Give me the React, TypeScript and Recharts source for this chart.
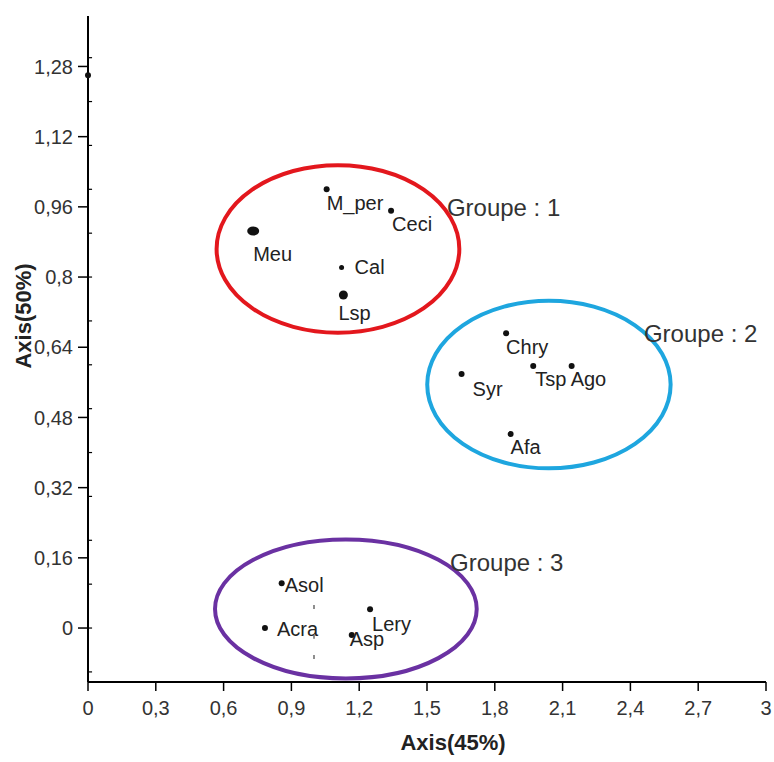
import React from 'react';
import { ScatterChart, Scatter, XAxis, YAxis, ReferenceArea, ReferenceLine } from 'recharts';

const FONT = '"Liberation Sans", Arial, sans-serif';

// species scores on the two axes
const speciesNames = ['', 'M_per', 'Ceci', 'Meu', 'Cal', 'Lsp', 'Chry', 'Syr', 'Tsp', 'Ago', 'Afa', 'Asol', 'Acra', 'Lery', 'Asp'];
const axis45 = [0, 1.056, 1.341, 0.731, 1.122, 1.13, 1.85, 1.653, 1.97, 2.14, 1.87, 0.857, 0.783, 1.248, 1.167];
const axis50 = [1.26, 1.0, 0.951, 0.905, 0.822, 0.759, 0.672, 0.579, 0.597, 0.597, 0.442, 0.102, 0.0, 0.043, -0.016];

// groups: label anchor and the extent of the circled area
const groupNames = ['Groupe : 1', 'Groupe : 2', 'Groupe : 3'];
const groupLabelX = [1.588, 2.46, 1.602];
const groupLabelY = [0.959, 0.672, 0.15];
const groupMinX = [0.569, 1.501, 0.562];
const groupMaxX = [1.643, 2.578, 1.72];
const groupMinY = [0.673, 0.364, -0.115];
const groupMaxY = [1.055, 0.746, 0.202];

// faint marks left over near x = 1
const markX = [1, 1, 1];
const markY = [0.048, -0.02, -0.066];

const xTicks = [0, 0.3, 0.6, 0.9, 1.2, 1.5, 1.8, 2.1, 2.4, 2.7, 3];
const yTicks = [0, 0.16, 0.32, 0.48, 0.64, 0.8, 0.96, 1.12, 1.28];
const yMinorTicks = [-0.1, 0, 0.1, 0.2, 0.3, 0.4, 0.5, 0.6, 0.7, 0.8, 0.9, 1, 1.1, 1.2, 1.3];

const groupColors = ['#e3171d', '#1ea6df', '#6a31a2'];

// label placement relative to each dot (px)
const labelOffset: Record<string, [number, number]> = {
  M_per: [0, 14], Ceci: [1, 13], Meu: [0, 23], Cal: [13, 0], Lsp: [-5, 18],
  Chry: [0, 14], Syr: [11, 15], Tsp: [2, 13], Ago: [-1, 13], Afa: [0, 13],
  Asol: [3, 2], Acra: [12, 1], Lery: [2, 15], Asp: [-2, 4],
};
const dotSize: Record<string, [number, number]> = { Meu: [6, 4.5], Lsp: [4.5, 4.5], Cal: [2.5, 2.5] };

const points = speciesNames.map((name, i) => ({ name, x: axis45[i], y: axis50[i] }));
const groupLabels = groupNames.map((name, i) => ({ name, x: groupLabelX[i], y: groupLabelY[i] }));
const marks = markX.map((x, i) => ({ x, y: markY[i] }));

const fmt = (v: number) => String(v).replace('.', ',');

const SpeciesDot = (props: any) => {
  const { cx, cy, payload } = props;
  const [rx, ry] = dotSize[payload.name] || [3, 3];
  const off = labelOffset[payload.name];
  return (
    <g>
      <ellipse cx={cx} cy={cy} rx={rx} ry={ry} fill="#111" />
      {off && (
        <text x={cx + off[0]} y={cy + off[1]} dominantBaseline="central" fontSize={20} fontFamily={FONT} fill="#222">
          {payload.name}
        </text>
      )}
    </g>
  );
};

const GroupText = (props: any) => (
  <text x={props.cx} y={props.cy} dominantBaseline="central" fontSize={24} fontFamily={FONT} fill="#333">
    {props.payload.name}
  </text>
);

const Mark = (props: any) => <line x1={props.cx} x2={props.cx} y1={props.cy - 2} y2={props.cy + 2} stroke="#444" strokeWidth={1.2} />;

export default function App() {
  return (
    <div style={{ position: 'absolute', left: 0, top: 0, background: '#fff' }}>
      <ScatterChart width={774} height={762} margin={{ top: 16, right: 8, bottom: 0, left: 0 }}>
        <XAxis
          type="number"
          dataKey="x"
          domain={[0, 3]}
          ticks={xTicks}
          tickFormatter={fmt}
          height={80}
          tickSize={9}
          tickMargin={10}
          axisLine={{ stroke: '#000', strokeWidth: 2 }}
          tickLine={{ stroke: '#000', strokeWidth: 1.5 }}
          tick={{ fontSize: 20, fontFamily: FONT, fill: '#333' }}
          label={() => (
            <text x={453} y={742} textAnchor="middle" dominantBaseline="central" fontSize={22} fontWeight="bold" fontFamily={FONT} fill="#222">
              Axis(45%)
            </text>
          )}
        />
        <YAxis
          type="number"
          dataKey="y"
          domain={[-0.123, 1.395]}
          allowDataOverflow
          ticks={yTicks}
          tickFormatter={fmt}
          width={88}
          tickSize={10}
          tickMargin={5}
          axisLine={{ stroke: '#000', strokeWidth: 2 }}
          tickLine={{ stroke: '#000', strokeWidth: 1.5 }}
          tick={{ fontSize: 20, fontFamily: FONT, fill: '#333' }}
          label={() => (
            <text x={23} y={316} transform="rotate(-90 23 316)" textAnchor="middle" dominantBaseline="central" fontSize={22} fontWeight="bold" fontFamily={FONT} fill="#222">
              Axis(50%)
            </text>
          )}
        />
        {/* minor ticks on the inner side of the y axis */}
        {yMinorTicks.map((v) => (
          <ReferenceLine
            key={v}
            segment={[{ x: 0, y: v }, { x: 0.018, y: v }]}
            stroke="#000"
            strokeWidth={1.2}
            ifOverflow="visible"
          />
        ))}
        {groupNames.map((g, i) => (
          <ReferenceArea
            key={g}
            x1={groupMinX[i]}
            x2={groupMaxX[i]}
            y1={groupMinY[i]}
            y2={groupMaxY[i]}
            shape={(p: any) => (
              <ellipse
                cx={p.x + p.width / 2}
                cy={p.y + p.height / 2}
                rx={Math.abs(p.width) / 2}
                ry={Math.abs(p.height) / 2}
                fill="none"
                stroke={groupColors[i]}
                strokeWidth={4}
              />
            )}
          />
        ))}
        <Scatter data={marks} shape={Mark} isAnimationActive={false} />
        <Scatter data={points} shape={SpeciesDot} isAnimationActive={false} />
        <Scatter data={groupLabels} shape={GroupText} isAnimationActive={false} />
      </ScatterChart>
    </div>
  );
}
